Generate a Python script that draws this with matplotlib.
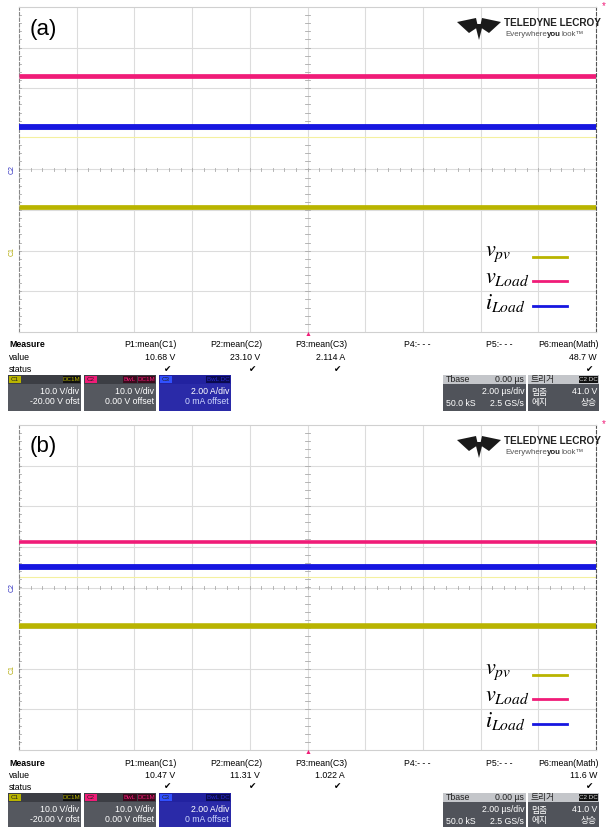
import numpy as np
import matplotlib
matplotlib.use("Agg")
import matplotlib.pyplot as plt
from matplotlib.patches import Rectangle, Polygon

plt.rcParams['font.family'] = ['Liberation Sans', 'DejaVu Sans']
plt.rcParams['mathtext.fontset'] = 'stix'

W, H = 607, 827

# measured means from the scope (P1..P3, P6)
panels = ["(a)", "(b)"]
vpv_mean = [10.68, 10.47]      # C1, V
vload_mean = [23.10, 11.31]    # C2, V
iload_mean = [2.114, 1.022]    # C3, A
power_mean = [48.7, 11.6]      # Math, W

# channel settings
ch_scale = [10.0, 10.0, 2.00]     # per div
ch_offset = [-20.0, 0.0, 0.0]
t_range = [-10.0, 10.0]           # us, 2.00 us/div
ndiv_x, ndiv_y = 10, 8

col_c1 = '#b9b400'
col_c2 = '#f01c78'
col_c3 = '#1616e0'
trace_width = [[3.4, 3.4, 4.2], [4.0, 2.6, 4.2]]

fig = plt.figure(figsize=(W / 100, H / 100), dpi=100)
fig.patch.set_facecolor('white')


def fx(x):
    return x / W


def fy(y):
    return 1 - y / H


def ftext(x, y, s, **kw):
    kw.setdefault('va', 'center')
    fig.text(fx(x), fy(y), s, **kw)


def box(x0, y0, x1, y1, color, z=2):
    fig.add_artist(Rectangle((fx(x0), fy(y1)), fx(x1 - x0), (y1 - y0) / H,
                             facecolor=color, edgecolor='none', zorder=z))


for k in range(2):
    dy = 418 * k
    ax = fig.add_axes([fx(19), fy(332 + dy), fx(596 - 19), (332 - 7) / H])
    ax.set_xlim(t_range)
    ax.set_ylim(-ndiv_y / 2, ndiv_y / 2)
    ax.set_xticks([])
    ax.set_yticks([])
    # graticule
    dx = (t_range[1] - t_range[0]) / ndiv_x
    for i in range(1, ndiv_x):
        ax.axvline(t_range[0] + i * dx, color='#dcdcdc', lw=0.8, zorder=0)
    for j in range(1, ndiv_y):
        ax.axhline(-ndiv_y / 2 + j, color='#dcdcdc', lw=0.8, zorder=0)
    # small ticks on centre lines and left edge
    for xm in np.arange(t_range[0], t_range[1] + 0.01, dx / 5):
        ax.plot([xm, xm], [-0.035, 0.035], color='#aaaaaa', lw=0.6, zorder=1)
    for ym in np.arange(-4, 4.01, 0.2):
        ax.plot([-0.07, 0.07], [ym, ym], color='#aaaaaa', lw=0.6, zorder=1)
        ax.plot([t_range[0], t_range[0] + 0.08], [ym, ym], color='#aaaaaa', lw=0.6, zorder=1)
    for s in ['top', 'bottom']:
        ax.spines[s].set_color('#d0d0d0')
    ax.spines['left'].set_color('#888888')
    ax.spines['left'].set_linestyle((0, (3, 2)))
    ax.spines['right'].set_color('#555555')
    ax.spines['right'].set_linestyle((0, (3, 2)))

    # faint yellow line under the blue trace
    ax.axhline([0.81, 0.25][k], color='#f4f0a0', lw=0.8, zorder=1)

    # one twin axis per channel so each trace uses its own V/div and offset
    vals = [vpv_mean[k], vload_mean[k], iload_mean[k]]
    cols = [col_c1, col_c2, col_c3]
    for c in range(3):
        tw = ax.twinx()
        sc, off = ch_scale[c], ch_offset[c]
        tw.set_ylim(-ndiv_y / 2 * sc - off, ndiv_y / 2 * sc - off)
        tw.set_yticks([])
        for s in tw.spines.values():
            s.set_visible(False)
        tw.plot(t_range, [vals[c], vals[c]], color=cols[c], lw=trace_width[k][c],
                solid_capstyle='butt')

    # ground markers
    ftext(12, 170 + dy, 'C2', rotation=90, fontsize=5, color='#3030c0', ha='center')
    ftext(12, 252 + dy, 'C1', rotation=90, fontsize=5, color='#b0a800', ha='center')
    # trigger marker and star
    ftext(308, 335 + dy, '\u25b2', fontsize=5, color=col_c2, ha='center')
    ftext(604, 6 + dy, '*', fontsize=7, color=col_c2, ha='center')

    # panel label
    ftext(30, 29 + dy, panels[k], fontsize=16, ha='left')

    # logo
    for poly in [[(457, 22), (476, 18), (478, 27), (469, 33)],
                 [(501, 22), (482, 18), (480, 27), (489, 33)],
                 [(475, 24), (483, 24), (479, 40)]]:
        fig.add_artist(Polygon([(fx(a), fy(b + dy)) for a, b in poly], closed=True,
                               facecolor='#1a1a1a', edgecolor='none'))
    ftext(504, 23 + dy, 'TELEDYNE LECROY', fontsize=7.2, weight='bold', ha='left', color='#222222')
    ftext(505, 34 + dy, 'Everywhere', fontsize=5.7, ha='left', color='#555555')
    ftext(547, 34 + dy, 'you', fontsize=5.7, ha='left', color='#222222', weight='bold')
    ftext(562, 34 + dy, 'look\u2122', fontsize=5.7, ha='left', color='#555555')

    # legend
    leg = [(r'$v_{pv}$', col_c1, 257), (r'$v_{Load}$', col_c2, 281), (r'$i_{Load}$', col_c3, 306)]
    for lab, cc, yy in leg:
        ftext(485, yy + dy - 3, lab, fontsize=16, ha='left')
        fig.add_artist(plt.Line2D([fx(533), fx(567)], [fy(yy + dy), fy(yy + dy)], color=cc, lw=2))

    # measure table
    fs = 6.3
    ftext(9, 345 + dy, 'Measure', fontsize=fs, weight='bold', ha='left')
    ftext(9, 357 + dy, 'value', fontsize=fs, ha='left')
    ftext(9, 369 + dy, 'status', fontsize=fs, ha='left')
    heads = ['P1:mean(C1)', 'P2:mean(C2)', 'P3:mean(C3)', 'P4:- - -', 'P5:- - -', 'P6:mean(Math)']
    right = [177, 262, 347, 430, 513, 599]
    values = ['%.2f V' % vpv_mean[k], '%.2f V' % vload_mean[k], '%.3f A' % iload_mean[k],
              '', '', '%.1f W' % power_mean[k]]
    for h, r, v in zip(heads, right, values):
        ftext(r, 345 + dy, h, fontsize=fs, ha='right')
        if v:
            ftext(r - 2, 357 + dy, v, fontsize=fs, ha='right')
            ftext(r - 6, 369 + dy, '\u2714', fontsize=fs, ha='right', family='DejaVu Sans')

    # channel boxes
    yb = 375 + dy
    chans = [
        (8, 81, '#55585f', col_c1, 'C1', ['DC1M'], '#111111', col_c1, '10.0 V/div', '-20.00 V ofst', 'white'),
        (84, 156, '#55585f', col_c2, 'C2', ['BwL', 'DC1M'], '#3a0a1c', col_c2, '10.0 V/div', '0.00 V offset', 'white'),
        (159, 231, '#2a2aa8', '#3050ff', 'C3', ['BwL DC'], '#0a0a50', '#2a2ad0', '2.00 A/div', '0 mA offset', '#cfd8ff'),
    ]
    for x0, x1, bg, tagc, tag, labs, labbg, labfg, l1, l2, c2txt in chans:
        box(x0, yb, x1, yb + 36, bg)
        box(x0, yb, x1, yb + 9, '#3c3e44' if tag != 'C3' else '#2222a0', z=3)
        box(x0 + 1, yb + 1, x0 + 13, yb + 8, tagc, z=4)
        ftext(x0 + 7, yb + 4.5, tag, fontsize=4.5, ha='center', color='#222222', zorder=5)
        xr = x1 - 1
        for lab in labs[::-1]:
            wl = 4 + 3.3 * len(lab)
            box(xr - wl, yb + 1, xr, yb + 8, labbg, z=4)
            ftext(xr - wl / 2, yb + 4.5, lab, fontsize=4.5, ha='center', color=labfg, zorder=5)
            xr -= wl + 1
        ftext(x1 - 2, yb + 17, l1, fontsize=fs, ha='right', color='white', zorder=5)
        ftext(x1 - 2, yb + 27, l2, fontsize=fs, ha='right', color=c2txt, zorder=5)

    # timebase box
    box(443, yb, 526, yb + 36, '#50535a')
    box(443, yb, 526, yb + 9, '#c4c6ca', z=3)
    ftext(446, yb + 4.5, 'Tbase', fontsize=fs, ha='left', color='#222222', zorder=5)
    ftext(524, yb + 4.5, '0.00 \u00b5s', fontsize=fs, ha='right', color='#222222', zorder=5)
    ftext(524, yb + 17, '2.00 \u00b5s/div', fontsize=fs, ha='right', color='white', zorder=5)
    ftext(446, yb + 28, '50.0 kS', fontsize=fs, ha='left', color='white', zorder=5)
    ftext(524, yb + 28, '2.5 GS/s', fontsize=fs, ha='right', color='white', zorder=5)

    # trigger box
    kr = ['Noto Sans CJK KR', 'DejaVu Sans']
    box(528, yb, 599, yb + 36, '#50535a')
    box(528, yb, 599, yb + 9, '#c4c6ca', z=3)
    box(579, yb + 1, 598, yb + 8, '#111111', z=4)
    ftext(588.5, yb + 4.5, 'C2 DC', fontsize=4.5, ha='center', color='#dddddd', zorder=5)
    ftext(531, yb + 4.5, '\ud2b8\ub9ac\uac70', fontsize=fs, ha='left', color='#222222', family=kr, zorder=5)
    ftext(531, yb + 17, '\uba48\ucda4', fontsize=fs, ha='left', color='white', family=kr, zorder=5)
    ftext(597, yb + 17, '41.0 V', fontsize=fs, ha='right', color='white', zorder=5)
    ftext(531, yb + 28, '\uc5d0\uc9c0', fontsize=fs, ha='left', color='white', family=kr, zorder=5)
    ftext(597, yb + 28, '\uc0c1\uc2b9', fontsize=fs, ha='right', color='white', family=kr, zorder=5)

fig.savefig('out.png', dpi=100, facecolor='white')
